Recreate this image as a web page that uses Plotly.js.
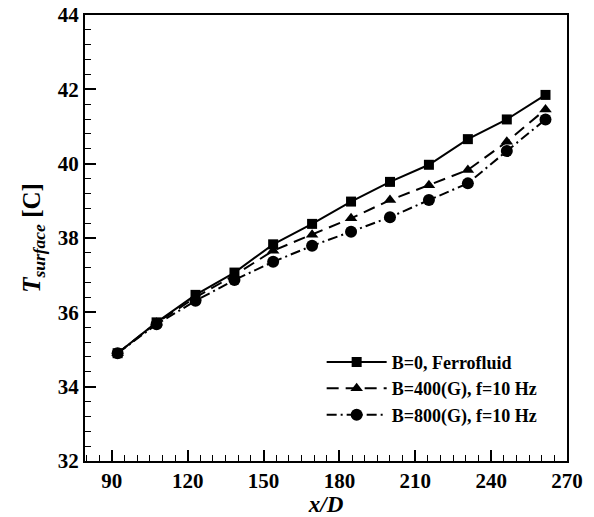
<!DOCTYPE html>
<html>
<head>
<meta charset="utf-8">
<script src="https://cdn.plot.ly/plotly-3.0.1.min.js"></script>
<style>html,body{margin:0;padding:0;background:#fff;}#chart{width:594px;height:517px;}</style>
</head>
<body>
<div id="chart"></div>
<script>
// Data
const xD = [92.3, 107.7, 123.1, 138.5, 153.8, 169.2, 184.6, 200.0, 215.4, 230.8, 246.2, 261.5];
const tFerro = [34.90, 35.73, 36.47, 37.07, 37.83, 38.38, 38.98, 39.51, 39.97, 40.66, 41.19, 41.85];
const tB400 = [34.90, 35.72, 36.40, 37.00, 37.66, 38.09, 38.53, 39.02, 39.42, 39.83, 40.59, 41.46];
const tB800 = [34.90, 35.68, 36.31, 36.87, 37.36, 37.79, 38.17, 38.56, 39.02, 39.47, 40.34, 41.19];
const seriesNames = ["B=0, Ferrofluid", "B=400(G), f=10 Hz", "B=800(G), f=10 Hz"];
const xTickVals = [90, 120, 150, 180, 210, 240, 270];
const yTickVals = [32, 34, 36, 38, 40, 42, 44];

const serif = "Liberation Serif";
const bold = s => "<b>" + s + "</b>";

const traces = [
  {x: xD, y: tFerro, name: bold(seriesNames[0]), legendgroup: "a", mode: "lines+markers", type: "scatter",
   line: {color: "#000", width: 2, dash: "solid"}, marker: {symbol: "square", size: 10, color: "#000"}},
  {x: xD, y: tB400, name: bold(seriesNames[1]), legendgroup: "b", mode: "lines+markers", type: "scatter",
   line: {color: "#000", width: 2, dash: "12px,7px"}, marker: {symbol: "triangle-up", size: 11, color: "#000"}},
  {x: xD, y: tB800, name: bold(seriesNames[2]), legendgroup: "c", mode: "lines+markers", type: "scatter",
   line: {color: "#000", width: 2, dash: "10px,4px,2px,4px"}, marker: {symbol: "circle", size: 12, color: "#000"}}
];

const axisCommon = {
  showline: true, mirror: true, linecolor: "#000", linewidth: 2,
  ticks: "inside", ticklen: 11, tickwidth: 2, tickcolor: "#000",
  showgrid: false, zeroline: false, tickmode: "array",
  tickfont: {family: serif, size: 21, color: "#000"}
};

const layout = {
  width: 594, height: 517,
  margin: {l: 85, r: 27, t: 15, b: 56},
  paper_bgcolor: "#fff", plot_bgcolor: "#fff",
  font: {family: serif, color: "#000"},
  showlegend: true,
  legend: {x: 0.491, y: 0.263, xanchor: "left", yanchor: "top", bgcolor: "rgba(0,0,0,0)",
           borderwidth: 0, tracegroupgap: 0, itemwidth: 60,
           font: {family: serif, size: 18, color: "#000"}},
  xaxis: Object.assign({}, axisCommon, {
    range: [79.4, 270], tickvals: xTickVals, ticktext: xTickVals.map(v => bold(v)),
    minor: {dtick: 5, tick0: 90, ticks: "inside", ticklen: 6, tickwidth: 1, tickcolor: "#000"},
    title: {text: "<b><i>x/D</i></b>", font: {family: serif, size: 23, color: "#000"}, standoff: 0}
  }),
  yaxis: Object.assign({}, axisCommon, {
    range: [32, 44], tickvals: yTickVals, ticktext: yTickVals.map(v => bold(v)),
    minor: {dtick: 0.4, tick0: 32, ticks: "inside", ticklen: 6, tickwidth: 1, tickcolor: "#000"},
    title: {text: "<b><i>T</i></b><sub><b><i>surface</i></b></sub><b> [C]</b>", font: {family: serif, size: 25, color: "#000"}, standoff: 10}
  })
};

Plotly.newPlot("chart", traces, layout, {displayModeBar: false, staticPlot: true});
</script>
</body>
</html>
